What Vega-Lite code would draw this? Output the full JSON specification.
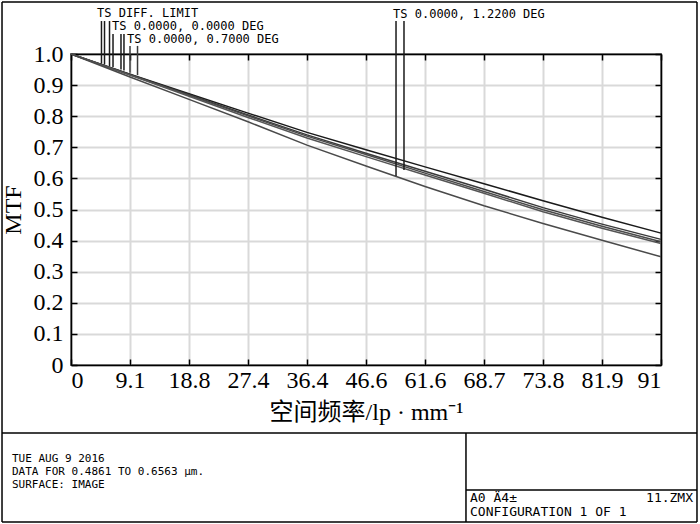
{
  "$schema": "https://vega.github.io/schema/vega-lite/v6.json",
  "width": 590,
  "height": 311,
  "autosize": "none",
  "padding": {"left": 71, "top": 54, "right": 39, "bottom": 159},
  "background": "white",
  "config": {
    "view": {"stroke": "black", "strokeWidth": 1.5},
    "axis": {"domainColor": "black", "domainWidth": 1.5, "tickColor": "black", "tickWidth": 1.5, "labelColor": "black", "titleColor": "black"}
  },
  "datasets": {
    "curves": [
      {"f": 0, "m": 1.0, "s": "diff"}, {"f": 9.1, "m": 0.935, "s": "diff"}, {"f": 18.2, "m": 0.872, "s": "diff"}, {"f": 27.3, "m": 0.81, "s": "diff"}, {"f": 36.4, "m": 0.748, "s": "diff"}, {"f": 45.5, "m": 0.692, "s": "diff"}, {"f": 54.6, "m": 0.637, "s": "diff"}, {"f": 63.7, "m": 0.583, "s": "diff"}, {"f": 72.8, "m": 0.528, "s": "diff"}, {"f": 81.9, "m": 0.475, "s": "diff"}, {"f": 91, "m": 0.424, "s": "diff"},
      {"f": 0, "m": 1.0, "s": "a"}, {"f": 9.1, "m": 0.934, "s": "a"}, {"f": 18.2, "m": 0.869, "s": "a"}, {"f": 27.3, "m": 0.804, "s": "a"}, {"f": 36.4, "m": 0.74, "s": "a"}, {"f": 45.5, "m": 0.681, "s": "a"}, {"f": 54.6, "m": 0.623, "s": "a"}, {"f": 63.7, "m": 0.565, "s": "a"}, {"f": 72.8, "m": 0.506, "s": "a"}, {"f": 81.9, "m": 0.453, "s": "a"}, {"f": 91, "m": 0.404, "s": "a"},
      {"f": 0, "m": 1.0, "s": "b"}, {"f": 9.1, "m": 0.933, "s": "b"}, {"f": 18.2, "m": 0.867, "s": "b"}, {"f": 27.3, "m": 0.801, "s": "b"}, {"f": 36.4, "m": 0.736, "s": "b"}, {"f": 45.5, "m": 0.677, "s": "b"}, {"f": 54.6, "m": 0.617, "s": "b"}, {"f": 63.7, "m": 0.558, "s": "b"}, {"f": 72.8, "m": 0.499, "s": "b"}, {"f": 81.9, "m": 0.446, "s": "b"}, {"f": 91, "m": 0.396, "s": "b"},
      {"f": 0, "m": 1.0, "s": "c"}, {"f": 9.1, "m": 0.932, "s": "c"}, {"f": 18.2, "m": 0.864, "s": "c"}, {"f": 27.3, "m": 0.796, "s": "c"}, {"f": 36.4, "m": 0.73, "s": "c"}, {"f": 45.5, "m": 0.67, "s": "c"}, {"f": 54.6, "m": 0.611, "s": "c"}, {"f": 63.7, "m": 0.552, "s": "c"}, {"f": 72.8, "m": 0.493, "s": "c"}, {"f": 81.9, "m": 0.44, "s": "c"}, {"f": 91, "m": 0.391, "s": "c"},
      {"f": 0, "m": 1.0, "s": "low"}, {"f": 9.1, "m": 0.926, "s": "low"}, {"f": 18.2, "m": 0.854, "s": "low"}, {"f": 27.3, "m": 0.782, "s": "low"}, {"f": 36.4, "m": 0.707, "s": "low"}, {"f": 45.5, "m": 0.64, "s": "low"}, {"f": 54.6, "m": 0.574, "s": "low"}, {"f": 63.7, "m": 0.512, "s": "low"}, {"f": 72.8, "m": 0.455, "s": "low"}, {"f": 81.9, "m": 0.401, "s": "low"}, {"f": 91, "m": 0.348, "s": "low"}
    ],
    "leaders": [
      {"f": 4.70, "top": 1.106, "bot": 0.969, "g": "k"},
      {"f": 5.17, "top": 1.106, "bot": 0.966, "g": "k"},
      {"f": 5.94, "top": 1.106, "bot": 0.961, "g": "k"},
      {"f": 6.48, "top": 1.064, "bot": 0.958, "g": "k"},
      {"f": 7.71, "top": 1.064, "bot": 0.95, "g": "k"},
      {"f": 8.17, "top": 1.064, "bot": 0.947, "g": "k"},
      {"f": 9.10, "top": 1.026, "bot": 0.94, "g": "g"},
      {"f": 10.26, "top": 1.026, "bot": 0.932, "g": "g"},
      {"f": 50.13, "top": 1.106, "bot": 0.608, "g": "k"},
      {"f": 51.36, "top": 1.106, "bot": 0.627, "g": "k"}
    ],
    "labels": [
      {"f": 4.01, "m": 1.119, "t": "TS DIFF. LIMIT"},
      {"f": 6.32, "m": 1.077, "t": "TS 0.0000, 0.0000 DEG"},
      {"f": 8.64, "m": 1.035, "t": "TS 0.0000, 0.7000 DEG"},
      {"f": 49.67, "m": 1.116, "t": "TS 0.0000, 1.2200 DEG"}
    ],
    "frame": [
      {"x1": -10.64, "x2": 96.55, "y1": 1.167, "y2": 1.167},
      {"x1": -10.64, "x2": 96.55, "y1": -0.505, "y2": -0.505},
      {"x1": -10.64, "x2": -10.64, "y1": 1.167, "y2": -0.505},
      {"x1": 96.55, "x2": 96.55, "y1": 1.167, "y2": -0.505},
      {"x1": -10.64, "x2": 96.55, "y1": -0.2186, "y2": -0.2186},
      {"x1": 60.92, "x2": 60.92, "y1": -0.2186, "y2": -0.505},
      {"x1": 60.92, "x2": 96.55, "y1": -0.402, "y2": -0.402}
    ],
    "footer": [
      {"f": -9.10, "m": -0.3119, "t": "TUE AUG 9 2016"},
      {"f": -9.10, "m": -0.3537, "t": "DATA FOR 0.4861 TO 0.6563 µm."},
      {"f": -9.10, "m": -0.3955, "t": "SURFACE: IMAGE"}
    ],
    "footerB": [
      {"f": 61.54, "m": -0.4405, "t": "A0 Ä4±"},
      {"f": 61.54, "m": -0.4855, "t": "CONFIGURATION 1 OF 1"}
    ],
    "footerR": [
      {"f": 95.94, "m": -0.4405, "t": "11.ZMX"}
    ]
  },
  "layer": [
    {
      "data": {"name": "curves"},
      "mark": {"type": "line", "strokeWidth": 1.5, "clip": false},
      "encoding": {
        "x": {
          "field": "f", "type": "quantitative",
          "scale": {"domain": [0, 91], "nice": false, "zero": false},
          "axis": {
            "orient": "bottom",
            "values": [0, 9.1, 18.2, 27.3, 36.4, 45.5, 54.6, 63.7, 72.8, 81.9, 91],
            "labelExpr": "['0','9.1','18.8','27.4','36.4','46.6','61.6','68.7','73.8','81.9','91'][round(datum.value/9.1)]",
            "labelFont": "Liberation Serif", "labelFontSize": 24, "labelPadding": 9,
            "tickSize": -6,
            "grid": true, "gridColor": "#d9d9d9", "gridWidth": 2,
            "title": "空间频率/lp · mm⁻¹",
            "titleFont": "Liberation Serif, Noto Sans CJK SC", "titleFontSize": 24, "titleFontWeight": "normal", "titlePadding": 8
          }
        },
        "y": {
          "field": "m", "type": "quantitative",
          "scale": {"domain": [0, 1], "nice": false, "zero": false},
          "axis": {
            "orient": "left",
            "values": [0, 0.1, 0.2, 0.3, 0.4, 0.5, 0.6, 0.7, 0.8, 0.9, 1.0],
            "labelExpr": "datum.value == 0 ? '0' : format(datum.value, '.1f')",
            "labelFont": "Liberation Serif", "labelFontSize": 24, "labelPadding": 14,
            "tickSize": -6,
            "grid": true, "gridColor": "#d9d9d9", "gridWidth": 2,
            "title": "MTF",
            "titleFont": "Liberation Serif", "titleFontSize": 24, "titleFontWeight": "normal", "titlePadding": 8
          }
        },
        "detail": {"field": "s"},
        "color": {
          "field": "s", "type": "nominal", "legend": null,
          "scale": {"domain": ["diff", "a", "b", "c", "low"], "range": ["#1a1a1a", "#3a3a3a", "#4a4a4a", "#555555", "#4a4a4a"]}
        }
      }
    },
    {
      "data": {"name": "leaders"},
      "mark": {"type": "rule", "strokeWidth": 1.5, "clip": false},
      "encoding": {
        "x": {"field": "f", "type": "quantitative", "axis": null},
        "y": {"field": "top", "type": "quantitative", "axis": null},
        "y2": {"field": "bot"},
        "color": {"field": "g", "type": "nominal", "legend": null, "scale": {"domain": ["k", "g"], "range": ["#333333", "#aaaaaa"]}}
      }
    },
    {
      "data": {"name": "labels"},
      "mark": {"type": "text", "align": "left", "baseline": "alphabetic", "font": "DejaVu Sans Mono", "fontSize": 12, "color": "black", "clip": false},
      "encoding": {
        "x": {"field": "f", "type": "quantitative", "axis": null},
        "y": {"field": "m", "type": "quantitative", "axis": null},
        "text": {"field": "t"}
      }
    },
    {
      "data": {"name": "frame"},
      "mark": {"type": "rule", "strokeWidth": 1.5, "color": "black", "clip": false},
      "encoding": {
        "x": {"field": "x1", "type": "quantitative", "axis": null},
        "x2": {"field": "x2"},
        "y": {"field": "y1", "type": "quantitative", "axis": null},
        "y2": {"field": "y2"}
      }
    },
    {
      "data": {"name": "footer"},
      "mark": {"type": "text", "align": "left", "baseline": "alphabetic", "font": "DejaVu Sans Mono", "fontSize": 11, "color": "black", "clip": false},
      "encoding": {
        "x": {"field": "f", "type": "quantitative", "axis": null},
        "y": {"field": "m", "type": "quantitative", "axis": null},
        "text": {"field": "t"}
      }
    },
    {
      "data": {"name": "footerB"},
      "mark": {"type": "text", "align": "left", "baseline": "alphabetic", "font": "DejaVu Sans Mono", "fontSize": 13, "color": "black", "clip": false},
      "encoding": {
        "x": {"field": "f", "type": "quantitative", "axis": null},
        "y": {"field": "m", "type": "quantitative", "axis": null},
        "text": {"field": "t"}
      }
    },
    {
      "data": {"name": "footerR"},
      "mark": {"type": "text", "align": "right", "baseline": "alphabetic", "font": "DejaVu Sans Mono", "fontSize": 13, "color": "black", "clip": false},
      "encoding": {
        "x": {"field": "f", "type": "quantitative", "axis": null},
        "y": {"field": "m", "type": "quantitative", "axis": null},
        "text": {"field": "t"}
      }
    },
    {
      "data": {"name": "curves"},
      "mark": {"type": "line", "strokeOpacity": 0},
      "encoding": {
        "x": {
          "field": "f", "type": "quantitative",
          "axis": {"orient": "top", "values": [0, 9.1, 18.2, 27.3, 36.4, 45.5, 54.6, 63.7, 72.8, 81.9, 91], "labels": false, "tickSize": -6, "grid": false, "title": null}
        },
        "y": {
          "field": "m", "type": "quantitative",
          "axis": {"orient": "right", "values": [0, 0.1, 0.2, 0.3, 0.4, 0.5, 0.6, 0.7, 0.8, 0.9, 1.0], "labels": false, "tickSize": -6, "grid": false, "title": null}
        },
        "detail": {"field": "s"}
      }
    }
  ],
  "resolve": {"axis": {"x": "independent", "y": "independent"}}
}
